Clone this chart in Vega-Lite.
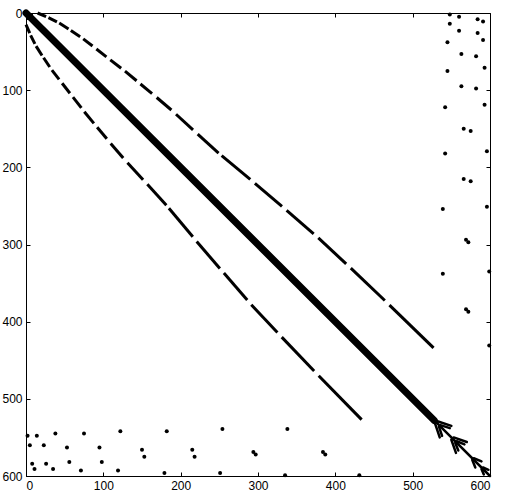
{
  "$schema": "https://vega.github.io/schema/vega-lite/v6.json",
  "width": 464,
  "height": 463,
  "autosize": {"type": "none"},
  "padding": {"left": 26, "top": 13, "right": 16, "bottom": 18},
  "background": "white",
  "config": {
    "view": {"stroke": "black", "strokeWidth": 1},
    "axis": {
      "grid": false,
      "tickSize": -4,
      "tickColor": "black",
      "tickWidth": 1,
      "domainColor": "black",
      "labelColor": "black",
      "labelFont": "Liberation Sans",
      "labelFontSize": 12,
      "labelPadding": 8,
      "title": null
    }
  },
  "datasets": {
    "band": [{"c1": 0, "r1": 0, "c2": 528, "r2": 528}],
    "block": [{"c1": 0, "r1": 0, "c2": 9, "r2": 9}],
    "tail": [
      {"c1": 528, "r1": 528, "c2": 600, "r2": 600},
      {"c1": 532, "r1": 529, "c2": 550, "r2": 535},
      {"c1": 536, "r1": 534, "c2": 548, "r2": 538},
      {"c1": 529, "r1": 532, "c2": 535, "r2": 550},
      {"c1": 534, "r1": 536, "c2": 538, "r2": 548},
      {"c1": 553, "r1": 550, "c2": 570, "r2": 556},
      {"c1": 557, "r1": 555, "c2": 567, "r2": 559},
      {"c1": 550, "r1": 553, "c2": 556, "r2": 570},
      {"c1": 555, "r1": 557, "c2": 559, "r2": 567},
      {"c1": 579, "r1": 577, "c2": 589, "r2": 581},
      {"c1": 577, "r1": 579, "c2": 581, "r2": 589},
      {"c1": 591, "r1": 589, "c2": 598, "r2": 592},
      {"c1": 589, "r1": 591, "c2": 592, "r2": 598}
    ],
    "off": [
      {"c1": 15, "r1": 0, "c2": 26, "r2": 4.8},
      {"c1": 29, "r1": 6, "c2": 40, "r2": 11.5},
      {"c1": 43, "r1": 13, "c2": 55, "r2": 20.7},
      {"c1": 58, "r1": 22.7, "c2": 70, "r2": 30.7},
      {"c1": 74, "r1": 33.5, "c2": 86, "r2": 42.8},
      {"c1": 91, "r1": 46.7, "c2": 104, "r2": 56.8},
      {"c1": 109, "r1": 60.7, "c2": 123, "r2": 71.6},
      {"c1": 128, "r1": 75.4, "c2": 143, "r2": 87.8},
      {"c1": 148, "r1": 92, "c2": 163, "r2": 104.5},
      {"c1": 169, "r1": 109.5, "c2": 188, "r2": 125.7},
      {"c1": 194, "r1": 131.2, "c2": 216, "r2": 151.4},
      {"c1": 222, "r1": 156.9, "c2": 249, "r2": 181.5},
      {"c1": 253, "r1": 184.8, "c2": 290, "r2": 215.7},
      {"c1": 296, "r1": 220.7, "c2": 331, "r2": 250.7},
      {"c1": 337, "r1": 255.9, "c2": 372, "r2": 286.1},
      {"c1": 378, "r1": 291.3, "c2": 414, "r2": 325.1},
      {"c1": 420, "r1": 330.7, "c2": 464, "r2": 372.6},
      {"c1": 470, "r1": 378.5, "c2": 527, "r2": 434},
      {"r1": 15, "c1": 0, "r2": 26, "c2": 4.8},
      {"r1": 29, "c1": 6, "r2": 40, "c2": 11.5},
      {"r1": 43, "c1": 13, "r2": 55, "c2": 20.7},
      {"r1": 58, "c1": 22.7, "r2": 70, "c2": 30.7},
      {"r1": 74, "c1": 33.5, "r2": 86, "c2": 42.8},
      {"r1": 91, "c1": 46.7, "r2": 104, "c2": 56.8},
      {"r1": 109, "c1": 60.7, "r2": 123, "c2": 71.6},
      {"r1": 128, "c1": 75.4, "r2": 143, "c2": 87.8},
      {"r1": 148, "c1": 92, "r2": 163, "c2": 104.5},
      {"r1": 169, "c1": 109.5, "r2": 188, "c2": 125.7},
      {"r1": 194, "c1": 131.2, "r2": 216, "c2": 151.4},
      {"r1": 222, "c1": 156.9, "r2": 249, "c2": 181.5},
      {"r1": 253, "c1": 184.8, "r2": 290, "c2": 215.7},
      {"r1": 296, "c1": 220.7, "r2": 331, "c2": 250.7},
      {"r1": 337, "c1": 255.9, "r2": 372, "c2": 286.1},
      {"r1": 378, "c1": 291.3, "r2": 414, "c2": 325.1},
      {"r1": 420, "c1": 330.7, "r2": 464, "c2": 372.6},
      {"r1": 470, "c1": 378.5, "r2": 527, "c2": 434}
    ],
    "dots": [
      {"r": 548, "c": 2}, {"r": 560, "c": 5}, {"r": 584, "c": 8}, {"r": 591, "c": 11},
      {"r": 548, "c": 14}, {"r": 560, "c": 23}, {"r": 584, "c": 26}, {"r": 591, "c": 35},
      {"r": 545, "c": 38}, {"r": 563, "c": 53}, {"r": 582, "c": 56}, {"r": 593, "c": 71},
      {"r": 545, "c": 75}, {"r": 563, "c": 95}, {"r": 582, "c": 98}, {"r": 593, "c": 119},
      {"r": 542, "c": 122}, {"r": 566, "c": 150}, {"r": 575, "c": 153}, {"r": 596, "c": 179},
      {"r": 542, "c": 182}, {"r": 566, "c": 215}, {"r": 575, "c": 218}, {"r": 596, "c": 251},
      {"r": 539, "c": 254}, {"r": 569, "c": 294}, {"r": 572, "c": 297}, {"r": 539, "c": 338},
      {"r": 599, "c": 335}, {"r": 569, "c": 384}, {"r": 572, "c": 387}, {"r": 599, "c": 431},
      {"c": 548, "r": 2}, {"c": 560, "r": 5}, {"c": 584, "r": 8}, {"c": 591, "r": 11},
      {"c": 548, "r": 14}, {"c": 560, "r": 23}, {"c": 584, "r": 26}, {"c": 591, "r": 35},
      {"c": 545, "r": 38}, {"c": 563, "r": 53}, {"c": 582, "r": 56}, {"c": 593, "r": 71},
      {"c": 545, "r": 75}, {"c": 563, "r": 95}, {"c": 582, "r": 98}, {"c": 593, "r": 119},
      {"c": 542, "r": 122}, {"c": 566, "r": 150}, {"c": 575, "r": 153}, {"c": 596, "r": 179},
      {"c": 542, "r": 182}, {"c": 566, "r": 215}, {"c": 575, "r": 218}, {"c": 596, "r": 251},
      {"c": 539, "r": 254}, {"c": 569, "r": 294}, {"c": 572, "r": 297}, {"c": 539, "r": 338},
      {"c": 599, "r": 335}, {"c": 569, "r": 384}, {"c": 572, "r": 387}, {"c": 599, "r": 431}
    ]
  },
  "layer": [
    {
      "data": {"name": "block"},
      "mark": {"type": "rect", "color": "black"},
      "encoding": {
        "x": {"field": "c1", "type": "quantitative", "scale": {"domain": [0, 600], "nice": false, "zero": false}, "axis": null},
        "x2": {"field": "c2"},
        "y": {"field": "r1", "type": "quantitative", "scale": {"domain": [0, 600], "nice": false, "zero": false, "reverse": true}, "axis": null},
        "y2": {"field": "r2"}
      }
    },
    {
      "data": {"name": "band"},
      "mark": {"type": "rule", "color": "black", "strokeWidth": 7, "strokeCap": "round"},
      "encoding": {
        "x": {"field": "c1", "type": "quantitative", "scale": {"domain": [0, 600], "nice": false, "zero": false}, "axis": null},
        "x2": {"field": "c2"},
        "y": {"field": "r1", "type": "quantitative", "scale": {"domain": [0, 600], "nice": false, "zero": false, "reverse": true}, "axis": null},
        "y2": {"field": "r2"}
      }
    },
    {
      "data": {"name": "tail"},
      "mark": {"type": "rule", "color": "black", "strokeWidth": 2.5, "strokeCap": "round"},
      "encoding": {
        "x": {"field": "c1", "type": "quantitative", "scale": {"domain": [0, 600], "nice": false, "zero": false}, "axis": null},
        "x2": {"field": "c2"},
        "y": {"field": "r1", "type": "quantitative", "scale": {"domain": [0, 600], "nice": false, "zero": false, "reverse": true}, "axis": null},
        "y2": {"field": "r2"}
      }
    },
    {
      "data": {"name": "off"},
      "mark": {"type": "rule", "color": "black", "strokeWidth": 3, "strokeCap": "butt"},
      "encoding": {
        "x": {"field": "c1", "type": "quantitative", "scale": {"domain": [0, 600], "nice": false, "zero": false}, "axis": {"orient": "top", "labels": false, "domain": false, "values": [0, 100, 200, 300, 400, 500, 600]}},
        "x2": {"field": "c2"},
        "y": {"field": "r1", "type": "quantitative", "scale": {"domain": [0, 600], "nice": false, "zero": false, "reverse": true}, "axis": {"orient": "right", "labels": false, "domain": false, "values": [0, 100, 200, 300, 400, 500, 600]}},
        "y2": {"field": "r2"}
      }
    },
    {
      "data": {"name": "dots"},
      "mark": {"type": "point", "shape": "circle", "filled": true, "color": "black", "opacity": 1, "size": 16},
      "encoding": {
        "x": {"field": "c", "type": "quantitative", "scale": {"domain": [0, 600], "nice": false, "zero": false}, "axis": {"orient": "bottom", "values": [0, 100, 200, 300, 400, 500, 600]}},
        "y": {"field": "r", "type": "quantitative", "scale": {"domain": [0, 600], "nice": false, "zero": false, "reverse": true}, "axis": {"orient": "left", "values": [0, 100, 200, 300, 400, 500, 600]}}
      }
    }
  ],
  "resolve": {"axis": {"x": "independent", "y": "independent"}}
}
